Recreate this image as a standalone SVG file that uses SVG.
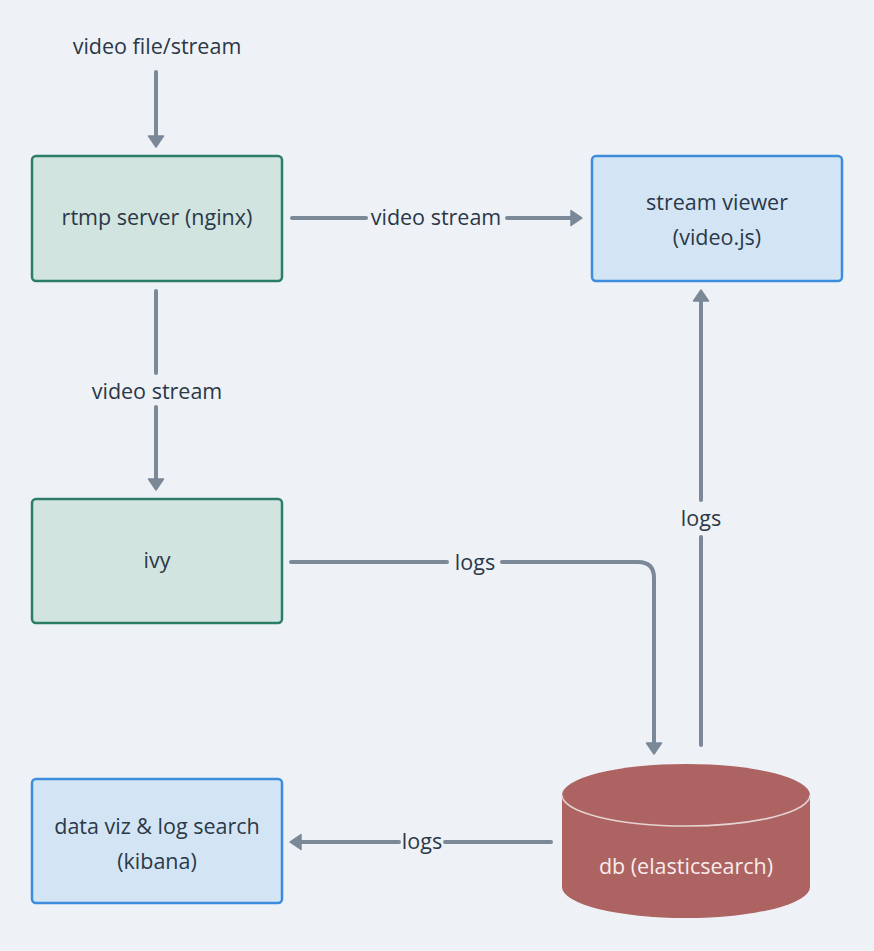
<svg xmlns="http://www.w3.org/2000/svg" width="874" height="951" viewBox="0 0 874 951">
<defs>
<marker id="ah" markerUnits="userSpaceOnUse" markerWidth="14" markerHeight="18" viewBox="0 0 14 18" refX="6" refY="9" orient="auto">
<path d="M1,1.5 L12,9 L1,16.5 Z" fill="#7a8898" stroke="#7a8898" stroke-width="1.5" stroke-linejoin="round"/>
</marker>
</defs>
<style>
.bg{fill:#eef2f6}
.green{fill:#d2e4df;stroke:#2c7d67;stroke-width:2.5}
.blue{fill:#d3e5f5;stroke:#3c8ddc;stroke-width:2.5}
.t{font-family:"Open Sans","Liberation Sans",sans-serif;font-size:21.5px;fill:#2a3848;text-anchor:middle}
.tw{fill:#f7ecec}
.c{fill:none;stroke:#7a8898;stroke-width:4;stroke-linecap:round;stroke-linejoin:round}
</style>
<rect class="bg" x="0" y="0" width="874" height="951"/>

<g id="connectors">
<line class="c" x1="156" y1="72" x2="156" y2="141" marker-end="url(#ah)"/>
<line class="c" x1="292" y1="218" x2="366" y2="218"/>
<line class="c" x1="507" y1="218" x2="576" y2="218" marker-end="url(#ah)"/>
<line class="c" x1="156" y1="291" x2="156" y2="373"/>
<line class="c" x1="156" y1="407" x2="156" y2="484" marker-end="url(#ah)"/>
<line class="c" x1="291" y1="562" x2="447" y2="562"/>
<path class="c" d="M502,562 L638,562 Q654,562 654,578 L654,748" marker-end="url(#ah)"/>
<line class="c" x1="701" y1="745" x2="701" y2="537"/>
<line class="c" x1="701" y1="500" x2="701" y2="296" marker-end="url(#ah)"/>
<line class="c" x1="551" y1="842" x2="445" y2="842"/>
<line class="c" x1="399" y1="842" x2="296" y2="842" marker-end="url(#ah)"/>
<text class="t" x="157" y="54">video file/stream</text>
<text class="t" x="436" y="225">video stream</text>
<text class="t" x="157" y="399">video stream</text>
<text class="t" x="475" y="570">logs</text>
<text class="t" x="701" y="526">logs</text>
<text class="t" x="422" y="849">logs</text>
</g>

<g id="rtmp">
<rect class="green" x="32" y="156" width="250" height="125" rx="4"/>
<text class="t" x="157" y="225">rtmp server (nginx)</text>
</g>
<g id="viewer">
<rect class="blue" x="592" y="156" width="250" height="125" rx="4"/>
<text class="t" x="717" y="210">stream viewer</text>
<text class="t" x="717" y="245">(video.js)</text>
</g>
<g id="ivy">
<rect class="green" x="32" y="499" width="250" height="124" rx="4"/>
<text class="t" x="157" y="568">ivy</text>
</g>
<g id="kibana">
<rect class="blue" x="32" y="779" width="250" height="124" rx="4"/>
<text class="t" x="157" y="834">data viz &amp; log search</text>
<text class="t" x="157" y="869">(kibana)</text>
</g>
<g id="db">
<path d="M562,795 A124,31 0 0 1 810,795 L810,887 A124,31 0 0 1 562,887 Z" fill="#ad6361"/>
<path d="M562,795 A124,31 0 0 0 810,795" fill="none" stroke="#e6d3d3" stroke-width="1.5"/>
<text class="t tw" x="686" y="874">db (elasticsearch)</text>
</g>
</svg>
